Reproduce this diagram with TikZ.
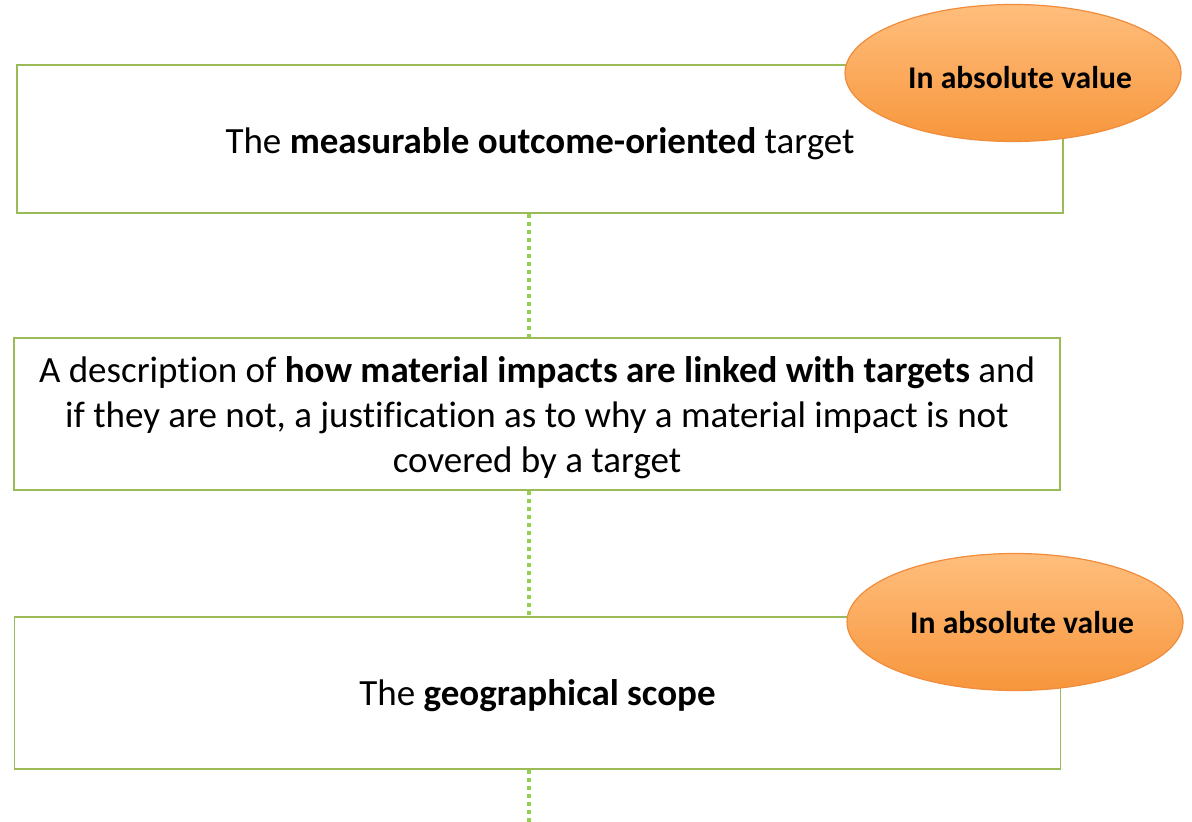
\documentclass[tikz,border=0pt]{standalone}
\usepackage{fontspec}
\setmainfont[Ligatures=NoCommon]{Carlito}
\usepackage{xcolor}
\usepackage{tikz}
\usetikzlibrary{positioning, shapes.geometric}
\definecolor{boxgreen}{RGB}{155,187,89}
\definecolor{dotgreen}{RGB}{146,208,80}
\definecolor{lightorange}{RGB}{255,190,125}
\definecolor{darkorange}{RGB}{247,150,60}
\definecolor{edgeorange}{RGB}{240,140,60}

% pads the top of a text so that it sits lower in its shape
\newcommand{\sink}[2][4.4pt]{\raisebox{0pt}[\dimexpr\height+#1\relax]{#2}}

\begin{document}
\begin{tikzpicture}[
    x=0.5pt, y=-0.5pt,
    % Node styles
    topic/.style={rectangle, draw=boxgreen, line width=0.75pt, fill=white, minimum width=523pt, inner sep=0pt, font=\fontsize{18.5}{22.5}\selectfont},
    badge/.style={ellipse, draw=edgeorange, line width=0.6pt, top color=lightorange, bottom color=darkorange, minimum width=165pt, minimum height=68.5pt, inner sep=0pt, font=\fontsize{15.8}{19}\selectfont\bfseries},
    % Edge styles
    link/.style={draw=dotgreen, line width=2pt, dash pattern=on 2pt off 2pt}
]

\useasboundingbox (0,0) rectangle (1192,822);

% Boxes
\node[topic, minimum height=74pt] (target) at (540,139) {\sink{The \textbf{measurable outcome-oriented} target}};
\node[topic, minimum height=76pt] (linked) at (537,414) {\sink{\begin{tabular}{@{}c@{}}
    A description of \textbf{how material impacts are linked with targets} and\\
    if they are not, a justification as to why a material impact is not\\
    covered by a target
  \end{tabular}}};
\node[topic, minimum height=76pt] (scope) at (537.5,693) {\sink[3pt]{The \textbf{geographical scope}}};

% Tags
\node[badge] (tag1) at (1013,73) {\hspace*{7pt}\sink[5pt]{In absolute value}};
\node[badge] (tag2) at (1015,622) {\hspace*{7pt}\sink[1pt]{In absolute value}};

% Loose end below the last box
\coordinate (tail) at (529,822);

% Draw all edges
\draw[link] ([xshift=-5.5pt]target.south) -- ([xshift=-5.5pt]target.south |- linked.north);
\draw[link] ([xshift=-4pt]linked.south) -- ([xshift=-4pt]linked.south |- scope.north);
\draw[link] ([xshift=-4.25pt]scope.south) -- (tail);

\end{tikzpicture}
\end{document}
